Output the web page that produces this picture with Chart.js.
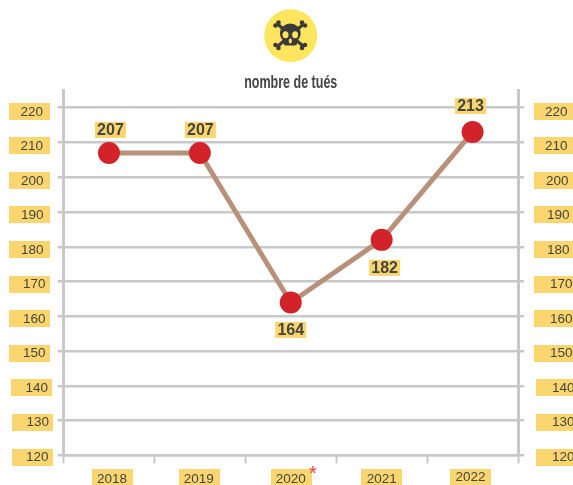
<!DOCTYPE html>
<html>
<head>
<meta charset="utf-8">
<style>
html,body{margin:0;padding:0;background:#fff;overflow:hidden}
#wrap{position:relative;width:573px;height:485px}
#icon{position:absolute;left:0;top:0}
canvas{display:block}
</style>
<script src="https://cdn.jsdelivr.net/npm/chart.js@4"></script>
</head>
<body>
<div id="wrap">
<canvas id="c" width="573" height="485"></canvas>
<svg id="icon" width="573" height="70">
  <circle cx="290.7" cy="35.7" r="26.5" fill="#ffe45e"/>
  <g stroke="#3a3a3a" stroke-width="3" stroke-linecap="round">
    <line x1="278" y1="24.5" x2="303" y2="46"/>
    <line x1="303" y1="24.5" x2="278" y2="46"/>
  </g>
  <g fill="#3a3a3a">
    <circle cx="275.5" cy="25.5" r="2.3"/><circle cx="278.5" cy="22.5" r="2.3"/>
    <circle cx="302" cy="22.5" r="2.3"/><circle cx="305" cy="25.5" r="2.3"/>
    <circle cx="275.5" cy="45" r="2.3"/><circle cx="278.5" cy="48" r="2.3"/>
    <circle cx="302" cy="48" r="2.3"/><circle cx="305" cy="45" r="2.3"/>
    <ellipse cx="290.3" cy="33.5" rx="10.4" ry="10"/>
    <rect x="283.5" y="38" width="13.6" height="7.5" rx="2.5"/>
  </g>
  <g fill="#ffe45e">
    <ellipse cx="285.5" cy="34.8" rx="3" ry="3.5"/>
    <ellipse cx="295.1" cy="34.8" rx="3" ry="3.5"/>
    <ellipse cx="290.3" cy="41" rx="1.6" ry="2.4"/>
  </g>
</svg>
</div>
<script>
const categories = ["2018", "2019", "2020", "2021", "2022"];
const killed = [207, 207, 164, 182, 213];
const tickValues = [120, 130, 140, 150, 160, 170, 180, 190, 200, 210, 220];
const chartTitle = "nombre de tués";
const footnoteMark = "*";

const GRID = "#c8c8c8", BOX = "#fbd66e", TEXT = "#444444";
const FAMILY = "'Liberation Sans', Arial, sans-serif";

// Small hand-placement offsets of the original layout (px)
const leftLabelShift  = [-9, -8.5, -9.5, -12, -12, -12, -14, -14, -14, -14.5, -14.5];
const rightLabelShift = [28, 28, 28, 26, 26, 26, 23, 23, 22, 21, 21];
const yLabelDy = [1.5, 1.8, 2.1, 2.4, 2.7, 3, 3.3, 3.6, 3.9, 4.2, 4.5];
const yBoxDy = [-7, -6.8, -6.6, -6.4, -6.2, -6, -5.8, -5.6, -5.4, -5.2, -5];
const leftBoxX  = [12, 12, 11, 9, 9, 9, 9, 9, 9, 9, 9];
const rightBoxX = [536, 536, 536, 534, 534, 534, 534, 534, 534, 534, 534];
const xLabelShift = [3, -1, 0, 0, -2];
const xLabelDy = [0, 0, 0, 0, -2];
const xBoxX = [92, 179, 271, 361, 450];
const valueBoxDx = [1.5, 0.5, 0, 3, -2];
const valueBoxDy = [-23, -23, 27.5, 28, -26];

function yAxis(position) {
  return {
    position, min: 120, max: 225,
    afterBuildTicks(s) { s.ticks = tickValues.map(value => ({ value })); },
    afterFit(s) { s.width = position === "left" ? 63.5 : 55; },
    border: { color: GRID, width: 3 },
    grid: { color: GRID, lineWidth: 2.5, tickLength: 6, tickColor: GRID, tickWidth: 2.5,
            drawOnChartArea: position === "left" },
    ticks: { color: TEXT, padding: 0, autoSkip: false,
             font: { family: FAMILY, size: 13.5 } }
  };
}

const decor = {
  id: "decor",
  beforeDraw(chart) {
    const { ctx, scales } = chart;
    ctx.save();
    ctx.fillStyle = BOX;
    tickValues.forEach((v, i) => {
      const top = Math.round(scales.y.getPixelForValue(v) + yBoxDy[i]);
      ctx.fillRect(leftBoxX[i], top, 41, 17);
      ctx.fillRect(rightBoxX[i], top, 41, 17);
    });
    xBoxX.forEach(x => ctx.fillRect(x, 469, 41, 17));
    ctx.restore();
    const shift = (scale, dx, dy) => {
      scale.getLabelItems(chart.chartArea).forEach((it, i) => {
        if (!it.__moved) {
          it.options.translation[0] += dx[i];
          it.options.translation[1] += dy[i];
          it.__moved = true;
        }
      });
    };
    shift(scales.y, leftLabelShift, yLabelDy);
    shift(scales.y1, rightLabelShift, yLabelDy);
    shift(scales.x, xLabelShift, xLabelDy);
    // the narrow display face of the title is not installed: condense the text
    const t = chart.titleBlock;
    if (t && !t.__narrow) {
      const orig = t.draw;
      t.draw = function () {
        const cx = this.left + this.width / 2, k = 0.695;
        ctx.save();
        ctx.translate(cx, 0); ctx.scale(k, 1); ctx.translate(-cx, 0);
        orig.call(this);
        ctx.restore();
      };
      t.__narrow = true;
    }
  },
  afterDatasetsDraw(chart) {
    const { ctx } = chart;
    const pts = chart.getDatasetMeta(0).data;
    ctx.save();
    ctx.font = "bold 16px " + FAMILY;
    ctx.textAlign = "center";
    ctx.textBaseline = "middle";
    pts.forEach((pt, i) => {
      const cx = pt.x + valueBoxDx[i];
      const cy = pt.y + valueBoxDy[i];
      ctx.fillStyle = BOX;
      ctx.fillRect(cx - 15.5, cy - 8, 31, 16);
      ctx.fillStyle = TEXT;
      ctx.fillText(String(killed[i]), cx, cy + 0.5);
    });
    ctx.font = "20px " + FAMILY;
    ctx.fillStyle = "#f0402f";
    ctx.fillText(footnoteMark, 313, 474);
    ctx.restore();
  }
};

new Chart(document.getElementById("c"), {
  type: "line",
  data: {
    labels: categories,
    datasets: [{
      data: killed,
      borderColor: "#b8917a",
      borderWidth: 5,
      pointBackgroundColor: "#d2232a",
      pointBorderColor: "#d2232a",
      pointRadius: 11,
      pointBorderWidth: 0,
      tension: 0,
      clip: false
    }]
  },
  options: {
    responsive: false,
    animation: false,
    layout: { padding: 0 },
    plugins: {
      legend: { display: false },
      tooltip: { enabled: false },
      title: {
        display: true,
        text: chartTitle,
        fullSize: false,
        color: "#444444",
        font: { family: FAMILY, size: 18, weight: "bold", lineHeight: 0.8 },
        padding: { top: 75.9, bottom: 0 }
      }
    },
    scales: {
      x: {
        type: "category",
        offset: true,
        afterFit(s) { s.height = 29.5; },
        border: { color: GRID, width: 2.5 },
        grid: { offset: true, drawOnChartArea: false, color: GRID, tickLength: 8, tickWidth: 2, tickColor: GRID },
        ticks: { color: TEXT, padding: 7.5, maxRotation: 0, font: { family: FAMILY, size: 13.5 } }
      },
      y: yAxis("left"),
      y1: yAxis("right")
    }
  },
  plugins: [decor]
});
</script>
</body>
</html>
